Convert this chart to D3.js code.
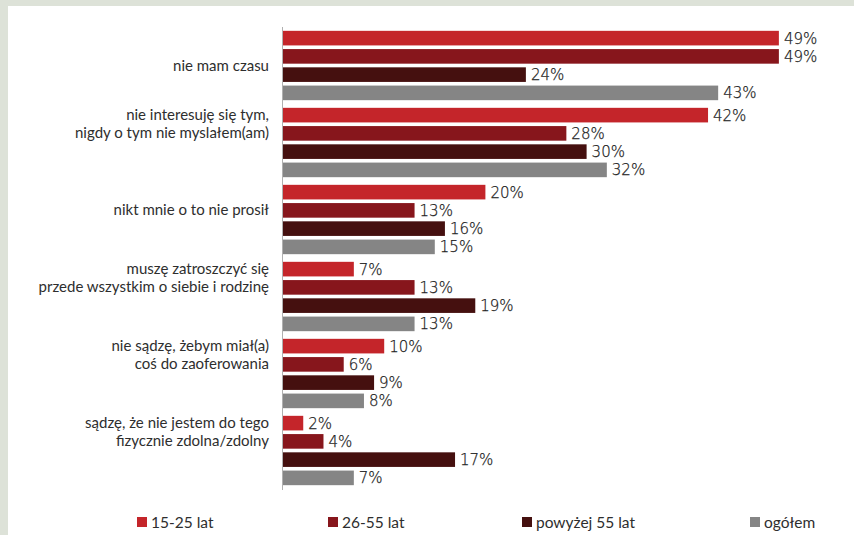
<!DOCTYPE html>
<html>
<head>
<meta charset="utf-8">
<script src="https://cdn.jsdelivr.net/npm/d3@7"></script>
<style>
  html, body { margin: 0; padding: 0; background: #dde2d8; }
  svg { display: block; }
</style>
</head>
<body>
<script>
// Reasons for not volunteering, by age group (percent of respondents)
const categories = [
  "nie mam czasu",
  "nie interesuję się tym, nigdy o tym nie myslałem(am)",
  "nikt mnie o to nie prosił",
  "muszę zatroszczyć się przede wszystkim o siebie i rodzinę",
  "nie sądzę, żebym miał(a) coś do zaoferowania",
  "sądzę, że nie jestem do tego fizycznie zdolna/zdolny"
];
// Wrapped label lines (trailing blanks keep the text in the upper part of each group)
const categoryLines = [
  ["nie mam czasu"],
  ["nie interesuję się tym,", "nigdy o tym nie myslałem(am)", "", ""],
  ["nikt mnie o to nie prosił", ""],
  ["muszę zatroszczyć się", "przede wszystkim o siebie i rodzinę", "", ""],
  ["nie sądzę, żebym miał(a)", "coś do zaoferowania", "", ""],
  ["sądzę, że nie jestem do tego", "fizycznie zdolna/zdolny", "", ""]
];
const seriesNames = ["15-25 lat", "26-55 lat", "powyżej 55 lat", "ogółem"];
const age15_25 = [49, 42, 20, 7, 10, 2];
const age26_55 = [49, 28, 13, 13, 6, 4];
const age55plus = [24, 30, 16, 19, 9, 17];
const overall = [43, 32, 15, 13, 8, 7];
const seriesValues = [age15_25, age26_55, age55plus, overall];
const seriesColors = ["#c4252a", "#87161c", "#45100f", "#858585"];

const W = 854, H = 535;
const svg = d3.select("body").append("svg").attr("width", W).attr("height", H);

// white panel inside the light frame
svg.append("rect").attr("x", 8).attr("y", 6).attr("width", W - 8).attr("height", H - 6).attr("fill", "#ffffff");

const axisX = 283;
const x = d3.scaleLinear().domain([0, 50]).range([axisX, axisX + 506]);
const yGroup = d3.scaleBand().domain(categories).range([27, 27 + 6 * 77]);
const ySeries = d3.scaleBand().domain(seriesNames).range([2, 75]).paddingInner(0.2).paddingOuter(0.1);

const labelFont = "Lato, 'Noto Sans', sans-serif";
const valueFont = "'DejaVu Sans', sans-serif";

const groups = svg.append("g").selectAll("g").data(categories).join("g")
  .attr("transform", d => `translate(0,${yGroup(d)})`);

groups.each(function (cat, ci) {
  const g = d3.select(this);
  seriesNames.forEach((s, si) => {
    const v = seriesValues[si][ci];
    const y = ySeries(s);
    g.append("rect")
      .attr("x", x(0)).attr("y", y)
      .attr("width", x(v) - x(0)).attr("height", ySeries.bandwidth())
      .attr("fill", seriesColors[si]);
    g.append("text")
      .attr("x", x(v) + 5).attr("y", y + ySeries.bandwidth() / 2)
      .attr("dy", "0.36em")
      .attr("font-family", valueFont).attr("font-size", 15).attr("font-weight", 200)
      .attr("fill", "#1e1e1e").attr("stroke", "#1e1e1e").attr("stroke-width", 0.25)
      .text(v + "%");
  });
  // category label, right aligned next to the axis
  const lines = categoryLines[ci];
  const lh = 18.7;
  const cy = yGroup.bandwidth() / 2;
  const t = g.append("text")
    .attr("text-anchor", "end")
    .attr("font-family", labelFont).attr("font-size", 15)
    .attr("fill", "#2e2e2e");
  lines.forEach((ln, li) => {
    t.append("tspan")
      .attr("x", 269)
      .attr("y", cy + (li - (lines.length - 1) / 2) * lh)
      .attr("dy", "0.35em")
      .text(ln === "" ? "\u00a0" : ln);
  });
});

// vertical category axis line
svg.append("line")
  .attr("x1", axisX - 0.5).attr("x2", axisX - 0.5)
  .attr("y1", 27).attr("y2", 490)
  .attr("stroke", "#b0b0b0").attr("stroke-width", 1);

// legend
const legendX = [137, 328, 522, 750];
const legend = svg.append("g").selectAll("g").data(seriesNames).join("g")
  .attr("transform", (d, i) => `translate(${legendX[i]},517)`);
legend.append("rect").attr("width", 10).attr("height", 10).attr("fill", (d, i) => seriesColors[i]);
legend.append("text")
  .attr("x", 14).attr("y", 5).attr("dy", "0.36em")
  .attr("font-family", labelFont).attr("font-size", 15.5)
  .attr("fill", "#2e2e2e")
  .text(d => d);
</script>
</body>
</html>
